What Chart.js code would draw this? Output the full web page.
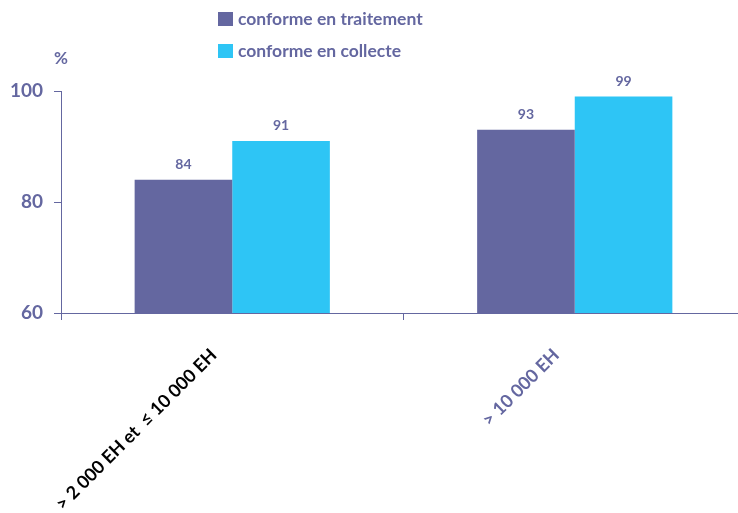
<!DOCTYPE html>
<html>
<head>
<meta charset="utf-8">
<script src="https://cdn.jsdelivr.net/npm/chart.js@4"></script>
<style>
  html, body { margin: 0; padding: 0; background: #fff; overflow: hidden; }
  #wrap { position: absolute; left: 0; top: 0; width: 746px; height: 513px; }
</style>
</head>
<body>
<div id="wrap"><canvas id="chart"></canvas></div>
<script>
// Taux de conformité par taille d'agglomération
const categories = ["> 2 000 EH et  \u2264 10 000 EH", "> 10 000 EH"];
const seriesNames = ["conforme en traitement", "conforme en collecte"];
const traitement = [84, 93];
const collecte = [91, 99];
const yTicks = [60, 80, 100];

const PURPLE = "#6467a0";
const CYAN = "#2ec5f5";
const labelColors = ["#000000", PURPLE];
const FONT = "Lato, 'Open Sans', sans-serif";

// légende en deux lignes + étiquettes de valeurs au-dessus des barres
const decorations = {
  id: "decorations",
  afterDatasetsDraw(chart) {
    const ctx = chart.ctx;
    ctx.save();

    // valeurs
    ctx.font = "bold 14px " + FONT;
    ctx.fillStyle = PURPLE;
    ctx.textAlign = "center";
    ctx.textBaseline = "bottom";
    chart.data.datasets.forEach((ds, i) => {
      chart.getDatasetMeta(i).data.forEach((bar, j) => {
        ctx.fillText(ds.data[j], bar.x, bar.y - 8);
      });
    });

    // légende
    ctx.font = "bold 17.5px " + FONT;
    ctx.textAlign = "left";
    ctx.textBaseline = "middle";
    chart.data.datasets.forEach((ds, i) => {
      const y = 19 + i * 32;
      ctx.fillStyle = ds.backgroundColor;
      ctx.fillRect(218, y - 7, 15, 14);
      ctx.fillStyle = PURPLE;
      ctx.fillText(ds.label, 238, y);
    });

    // unité
    ctx.font = "bold 17px " + FONT;
    ctx.fillText("%", 54, 59);
    ctx.restore();
  }
};

new Chart(document.getElementById("chart"), {
  type: "bar",
  data: {
    labels: categories,
    datasets: [
      { label: seriesNames[0], data: traitement, backgroundColor: PURPLE },
      { label: seriesNames[1], data: collecte, backgroundColor: CYAN }
    ]
  },
  options: {
    responsive: true,
    maintainAspectRatio: false,
    animation: false,
    layout: { padding: { top: 91, right: 0, left: 0, bottom: 0 } },
    categoryPercentage: 0.57,
    barPercentage: 1,
    plugins: {
      legend: { display: false },
      tooltip: { enabled: false }
    },
    scales: {
      x: {
        offset: true,
        grid: { offset: true, drawOnChartArea: false, drawTicks: true, tickLength: 7, color: PURPLE },
        border: { color: PURPLE, width: 1 },
        ticks: {
          minRotation: 45,
          maxRotation: 45,
          padding: 6,
          // espaces en fin pour décaler le texte vers le bas-gauche
          callback(value) { return this.getLabelForValue(value) + "      "; },
          color: (c) => labelColors[c.index],
          font: { family: FONT, size: 18, weight: "bold" }
        },
        afterFit(scale) { scale.height = 200; }
      },
      y: {
        min: 60,
        max: 100,
        afterBuildTicks(scale) { scale.ticks = yTicks.map(v => ({ value: v })); },
        grid: { drawOnChartArea: false, drawTicks: true, tickLength: 7, color: PURPLE },
        border: { color: PURPLE, width: 1 },
        ticks: {
          padding: 11,
          color: PURPLE,
          font: { family: FONT, size: 19, weight: "bold" }
        },
        afterFit(scale) { scale.width = 61; }
      }
    }
  },
  plugins: [decorations]
});
</script>
</body>
</html>
